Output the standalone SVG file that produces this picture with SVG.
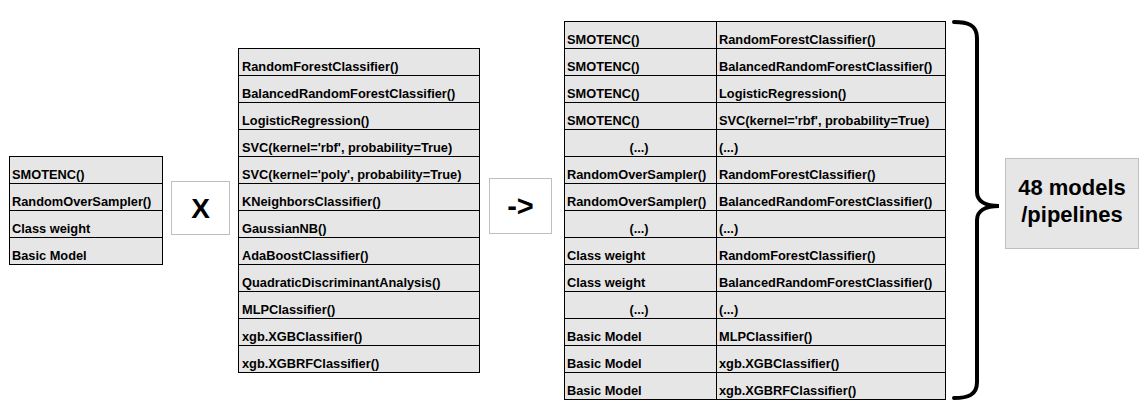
<svg xmlns="http://www.w3.org/2000/svg" width="1147" height="419" viewBox="0 0 1147 419">
<style>
  .cell { fill: #e7e6e6; stroke: #000; stroke-width: 1; }
  .t { font-family: "Liberation Sans", Arial, sans-serif; font-weight: bold; font-size: 12.8px; fill: #000; }
  .tc { text-anchor: middle; }
  .gbox { fill: #fff; stroke: #bfbfbf; stroke-width: 1; }
  .lbox { fill: #e7e6e6; stroke: #bfbfbf; stroke-width: 1; }
  .big { font-family: "Liberation Sans", Arial, sans-serif; font-weight: bold; fill: #000; text-anchor: middle; }
</style>
<rect width="1147" height="419" fill="#fff"/>

<g id="samplers">
  <rect class="cell" x="9.5" y="156.5" width="153" height="27"/>
  <rect class="cell" x="9.5" y="183.5" width="153" height="27"/>
  <rect class="cell" x="9.5" y="210.5" width="153" height="27"/>
  <rect class="cell" x="9.5" y="237.5" width="153" height="27"/>
  <text class="t" x="12" y="179">SMOTENC()</text>
  <text class="t" x="12" y="206">RandomOverSampler()</text>
  <text class="t" x="12" y="233">Class weight</text>
  <text class="t" x="12" y="260">Basic Model</text>
</g>

<g id="times">
  <rect class="gbox" x="171.5" y="181.5" width="58" height="53"/>
  <text class="big" x="200.5" y="217.5" font-size="28">X</text>
</g>

<g id="classifiers">
  <rect class="cell" x="238.5" y="48.5" width="241" height="27"/>
  <rect class="cell" x="238.5" y="75.5" width="241" height="27"/>
  <rect class="cell" x="238.5" y="102.5" width="241" height="27"/>
  <rect class="cell" x="238.5" y="129.5" width="241" height="27"/>
  <rect class="cell" x="238.5" y="156.5" width="241" height="27"/>
  <rect class="cell" x="238.5" y="183.5" width="241" height="27"/>
  <rect class="cell" x="238.5" y="210.5" width="241" height="27"/>
  <rect class="cell" x="238.5" y="237.5" width="241" height="27"/>
  <rect class="cell" x="238.5" y="264.5" width="241" height="27"/>
  <rect class="cell" x="238.5" y="291.5" width="241" height="27"/>
  <rect class="cell" x="238.5" y="318.5" width="241" height="27"/>
  <rect class="cell" x="238.5" y="345.5" width="241" height="27"/>
  <text class="t" x="242" y="71">RandomForestClassifier()</text>
  <text class="t" x="242" y="98">BalancedRandomForestClassifier()</text>
  <text class="t" x="242" y="125">LogisticRegression()</text>
  <text class="t" x="242" y="152">SVC(kernel='rbf', probability=True)</text>
  <text class="t" x="242" y="179">SVC(kernel='poly', probability=True)</text>
  <text class="t" x="242" y="206">KNeighborsClassifier()</text>
  <text class="t" x="242" y="233">GaussianNB()</text>
  <text class="t" x="242" y="260">AdaBoostClassifier()</text>
  <text class="t" x="242" y="287">QuadraticDiscriminantAnalysis()</text>
  <text class="t" x="242" y="314">MLPClassifier()</text>
  <text class="t" x="242" y="341">xgb.XGBClassifier()</text>
  <text class="t" x="242" y="368">xgb.XGBRFClassifier()</text>
</g>

<g id="yields">
  <rect class="gbox" x="489.5" y="178.5" width="62" height="55"/>
  <text class="big" x="520.5" y="216" font-size="29">-&gt;</text>
</g>

<g id="pipelines">
  <g id="pipelines-col1">
    <rect class="cell" x="564.5" y="21.5" width="152" height="27"/>
    <rect class="cell" x="564.5" y="48.5" width="152" height="27"/>
    <rect class="cell" x="564.5" y="75.5" width="152" height="27"/>
    <rect class="cell" x="564.5" y="102.5" width="152" height="27"/>
    <rect class="cell" x="564.5" y="129.5" width="152" height="27"/>
    <rect class="cell" x="564.5" y="156.5" width="152" height="27"/>
    <rect class="cell" x="564.5" y="183.5" width="152" height="27"/>
    <rect class="cell" x="564.5" y="210.5" width="152" height="27"/>
    <rect class="cell" x="564.5" y="237.5" width="152" height="27"/>
    <rect class="cell" x="564.5" y="264.5" width="152" height="27"/>
    <rect class="cell" x="564.5" y="291.5" width="152" height="27"/>
    <rect class="cell" x="564.5" y="318.5" width="152" height="27"/>
    <rect class="cell" x="564.5" y="345.5" width="152" height="27"/>
    <rect class="cell" x="564.5" y="372.5" width="152" height="27"/>
    <text class="t" x="567" y="44">SMOTENC()</text>
    <text class="t" x="567" y="71">SMOTENC()</text>
    <text class="t" x="567" y="98">SMOTENC()</text>
    <text class="t" x="567" y="125">SMOTENC()</text>
    <text class="t tc" x="639" y="152">(...)</text>
    <text class="t" x="567" y="179">RandomOverSampler()</text>
    <text class="t" x="567" y="206">RandomOverSampler()</text>
    <text class="t tc" x="639" y="233">(...)</text>
    <text class="t" x="567" y="260">Class weight</text>
    <text class="t" x="567" y="287">Class weight</text>
    <text class="t tc" x="639" y="314">(...)</text>
    <text class="t" x="567" y="341">Basic Model</text>
    <text class="t" x="567" y="368">Basic Model</text>
    <text class="t" x="567" y="395">Basic Model</text>
  </g>
  <g id="pipelines-col2">
    <rect class="cell" x="716.5" y="21.5" width="229" height="27"/>
    <rect class="cell" x="716.5" y="48.5" width="229" height="27"/>
    <rect class="cell" x="716.5" y="75.5" width="229" height="27"/>
    <rect class="cell" x="716.5" y="102.5" width="229" height="27"/>
    <rect class="cell" x="716.5" y="129.5" width="229" height="27"/>
    <rect class="cell" x="716.5" y="156.5" width="229" height="27"/>
    <rect class="cell" x="716.5" y="183.5" width="229" height="27"/>
    <rect class="cell" x="716.5" y="210.5" width="229" height="27"/>
    <rect class="cell" x="716.5" y="237.5" width="229" height="27"/>
    <rect class="cell" x="716.5" y="264.5" width="229" height="27"/>
    <rect class="cell" x="716.5" y="291.5" width="229" height="27"/>
    <rect class="cell" x="716.5" y="318.5" width="229" height="27"/>
    <rect class="cell" x="716.5" y="345.5" width="229" height="27"/>
    <rect class="cell" x="716.5" y="372.5" width="229" height="27"/>
    <text class="t" x="719" y="44">RandomForestClassifier()</text>
    <text class="t" x="719" y="71">BalancedRandomForestClassifier()</text>
    <text class="t" x="719" y="98">LogisticRegression()</text>
    <text class="t" x="719" y="125">SVC(kernel='rbf', probability=True)</text>
    <text class="t" x="719" y="152">(...)</text>
    <text class="t" x="719" y="179">RandomForestClassifier()</text>
    <text class="t" x="719" y="206">BalancedRandomForestClassifier()</text>
    <text class="t" x="719" y="233">(...)</text>
    <text class="t" x="719" y="260">RandomForestClassifier()</text>
    <text class="t" x="719" y="287">BalancedRandomForestClassifier()</text>
    <text class="t" x="719" y="314">(...)</text>
    <text class="t" x="719" y="341">MLPClassifier()</text>
    <text class="t" x="719" y="368">xgb.XGBClassifier()</text>
    <text class="t" x="719" y="395">xgb.XGBRFClassifier()</text>
  </g>
</g>

<g id="connectors">
  <path id="brace" d="M954,22 C968,22 977,25 977,38 L977,192 C977,201 985,206 999,206 C985,206 977,211 977,220 L977,382 C977,395 968,398 954,398" fill="none" stroke="#000" stroke-width="4" stroke-linecap="round"/>
</g>

<g id="total">
  <rect class="lbox" x="1005.5" y="158.5" width="133" height="90"/>
  <text class="big" x="1072" y="195" font-size="22">48 models</text>
  <text class="big" x="1072" y="222" font-size="22">/pipelines</text>
</g>
</svg>
